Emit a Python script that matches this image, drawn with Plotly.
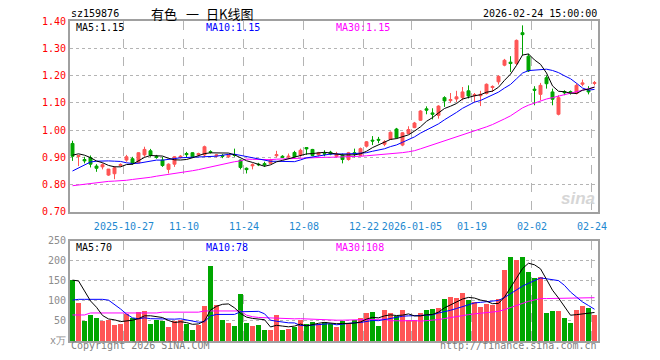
import plotly.graph_objects as go

# ---------------- data ----------------
opens = [0.951,0.903,0.892,0.899,0.868,0.865,0.835,0.840,0.870,0.890,
         0.895,0.880,0.909,0.924,0.904,0.890,0.856,0.875,0.900,0.914,
         0.917,0.909,0.909,0.921,0.905,0.907,0.902,0.910,0.890,0.860,
         0.869,0.875,0.877,0.878,0.906,0.904,0.901,0.918,0.908,0.936,
         0.929,0.909,0.914,0.919,0.904,0.908,0.892,0.917,0.907,0.941,
         0.963,0.966,0.948,0.966,1.004,0.945,0.987,1.009,1.036,1.078,
         1.063,1.054,1.119,1.108,1.114,1.119,1.144,1.126,1.126,1.134,
         1.156,1.177,1.238,1.249,1.244,1.357,1.271,1.150,1.131,1.192,
         1.140,1.058,1.141,1.141,1.134,1.168,1.146,1.171]
highs = [0.961,0.909,0.902,0.907,0.875,0.878,0.857,0.868,0.878,0.909,
         0.902,0.919,0.939,0.931,0.909,0.902,0.878,0.904,0.908,0.920,
         0.919,0.917,0.943,0.926,0.912,0.912,0.912,0.932,0.892,0.863,
         0.878,0.880,0.884,0.895,0.924,0.908,0.914,0.924,0.932,0.936,
         0.931,0.920,0.926,0.924,0.920,0.914,0.920,0.932,0.936,0.960,
         0.978,0.975,0.963,0.995,1.008,0.993,1.014,1.030,1.073,1.087,
         1.080,1.091,1.124,1.136,1.144,1.158,1.164,1.136,1.144,1.171,
         1.164,1.201,1.261,1.271,1.332,1.384,1.280,1.161,1.173,1.201,
         1.152,1.128,1.146,1.145,1.171,1.185,1.161,1.180]
lows = [0.887,0.868,0.878,0.863,0.847,0.856,0.832,0.820,0.866,0.884,
        0.873,0.878,0.902,0.902,0.895,0.865,0.841,0.865,0.896,0.900,
        0.898,0.904,0.904,0.914,0.900,0.897,0.898,0.902,0.856,0.841,
        0.856,0.868,0.865,0.875,0.900,0.898,0.896,0.900,0.902,0.909,
        0.904,0.904,0.904,0.908,0.900,0.878,0.888,0.900,0.904,0.936,
        0.945,0.952,0.941,0.964,0.969,0.941,0.985,1.007,1.034,1.058,
        1.039,1.042,1.085,1.100,1.103,1.109,1.116,1.103,1.088,1.131,
        1.140,1.167,1.234,1.213,1.238,1.274,1.213,1.091,1.109,1.152,
        1.091,1.054,1.128,1.130,1.131,1.161,1.131,1.164]
closes = [0.904,0.907,0.887,0.875,0.860,0.873,0.857,0.862,0.874,0.902,
          0.878,0.917,0.929,0.908,0.900,0.870,0.875,0.902,0.904,0.910,
          0.902,0.914,0.939,0.918,0.909,0.904,0.909,0.907,0.863,0.855,
          0.873,0.873,0.872,0.890,0.910,0.900,0.904,0.902,0.926,0.931,
          0.907,0.917,0.912,0.912,0.912,0.892,0.917,0.913,0.932,0.957,
          0.960,0.963,0.957,0.992,0.972,0.990,1.002,1.026,1.070,1.073,
          1.058,1.088,1.107,1.112,1.122,1.140,1.125,1.130,1.131,1.168,
          1.160,1.197,1.256,1.244,1.329,1.350,1.217,1.146,1.164,1.170,
          1.113,1.119,1.137,1.138,1.164,1.173,1.140,1.174]
volumes = [152,96,50,65,58,50,52,40,42,68,
           57,72,75,43,53,50,35,50,52,43,
           28,40,87,188,90,53,45,38,118,44,
           37,40,27,27,65,27,31,36,52,42,
           48,43,47,43,35,50,43,52,58,70,
           72,37,77,70,62,77,52,52,70,77,
           80,82,105,110,107,120,102,97,85,92,
           90,105,177,210,202,210,172,157,160,70,
           75,75,57,45,77,87,82,65]

# moving-average values visible at the left edge (they depend on earlier days)
ma5_head = [0.908, 0.913, 0.908, 0.899]
ma10_head = [0.850, 0.862, 0.874, 0.883, 0.886, 0.887, 0.887, 0.886, 0.885]
ma30_head = [0.796, 0.799, 0.802, 0.805, 0.807, 0.810, 0.812, 0.813, 0.814, 0.816,
             0.819, 0.821, 0.824, 0.827, 0.831, 0.834, 0.837, 0.840, 0.843, 0.847,
             0.851, 0.855, 0.860, 0.865, 0.870, 0.875, 0.880, 0.884, 0.887]
vma5_head = [152, 150, 125, 100]
vma10_head = [102, 104, 104, 104, 104, 104, 102, 92, 80]
vma30_head = [65, 65, 65, 70, 70, 70, 70, 70, 70, 70, 70, 70, 70, 70, 70,
              72, 72, 72, 72, 72, 72, 72, 75, 75, 75, 75, 75, 75, 75]

tick_idx = [9, 19, 29, 39, 49, 57, 67, 77, 87]
tick_labels = ["2025-10-27", "11-10", "11-24", "12-08", "12-22",
               "2026-01-05", "01-19", "02-02", "02-24"]
price_ticks = [0.70, 0.80, 0.90, 1.00, 1.10, 1.20, 1.30, 1.40]
vol_ticks = [0, 50, 100, 150, 200, 250]
vol_tick_labels = ["x万", "50", "100", "150", "200", "250"]
price_ma_labels = ["1.15", "1.15", "1.15"]
vol_ma_labels = ["70", "78", "108"]

# ---------------- helpers ----------------
def moving_average(vals, n, head):
    out = list(head)
    for i in range(len(head), len(vals)):
        w = vals[i - n + 1:i + 1]
        out.append(sum(w) / n)
    return out

N = len(closes)
xs = list(range(N))
ma5 = moving_average(closes, 5, ma5_head)
ma10 = moving_average(closes, 10, ma10_head)
ma30 = moving_average(closes, 30, ma30_head)
vma5 = moving_average(volumes, 5, vma5_head)
vma10 = moving_average(volumes, 10, vma10_head)
vma30 = moving_average(volumes, 30, vma30_head)

RED = "#ff5555"
GREEN = "#00a600"
MONO = "DejaVu Sans Mono"
CJK = "Noto Sans CJK SC"
GRID = "#b4b4b4"
BORDER = "#a0a0a0"

vol_colors = [RED if c >= o else GREEN for o, c in zip(opens, closes)]

fig = go.Figure()
fig.add_trace(go.Candlestick(
    x=xs, open=opens, high=highs, low=lows, close=closes,
    increasing=dict(line=dict(color=RED, width=1), fillcolor=RED),
    decreasing=dict(line=dict(color=GREEN, width=1), fillcolor=GREEN),
    whiskerwidth=0, xaxis="x", yaxis="y", hoverinfo="skip"))
for vals, col in [(ma30, "#ff00ff"), (ma10, "#0000ff"), (ma5, "#000000")]:
    fig.add_trace(go.Scatter(x=xs, y=vals, mode="lines",
                             line=dict(color=col, width=1),
                             xaxis="x", yaxis="y", hoverinfo="skip"))

fig.add_trace(go.Bar(x=xs, y=volumes, marker=dict(color=vol_colors, line=dict(width=0)),
                     width=0.85, xaxis="x2", yaxis="y2", hoverinfo="skip"))
for vals, col in [(vma30, "#ff00ff"), (vma10, "#0000ff"), (vma5, "#000000")]:
    fig.add_trace(go.Scatter(x=xs, y=vals, mode="lines",
                             line=dict(color=col, width=1),
                             xaxis="x2", yaxis="y2", hoverinfo="skip"))

# window pixel geometry of the plot area
W, H = 660, 360
PLOT_L, PLOT_R, PLOT_T, PLOT_B = 70, 598, 20.5, 341
L, T = PLOT_L, PLOT_T
R = W - PLOT_R
B = H - PLOT_B
PW, PH = PLOT_R - PLOT_L, PLOT_B - PLOT_T

def px(x):
    return (x - PLOT_L) / PW
def py(y):
    return (PLOT_B - y) / PH

price_dom = [py(211.7), 1.0]
vol_dom = [0.0, py(240.7)]
xr = [-0.417, N - 0.417]
grid_x = [t - 0.42 for t in tick_idx]

common_x = dict(range=xr, showgrid=True, gridcolor=GRID, griddash="dash", gridwidth=1,
                zeroline=False, showline=True, mirror=True, linecolor=BORDER, linewidth=2,
                tickvals=grid_x, fixedrange=True)
fig.update_layout(
    width=W, height=H,
    margin=dict(l=L, r=R, t=T, b=B, pad=0, autoexpand=False),
    paper_bgcolor="white", plot_bgcolor="white",
    showlegend=False, bargap=0, hovermode=False,
    xaxis=dict(common_x, domain=[0, 1], anchor="y", ticktext=tick_labels,
               tickfont=dict(family=MONO, size=10, color="#1e88d0"),
               tickangle=0, ticks="outside", ticklen=4, tickcolor="rgba(0,0,0,0)",
               rangeslider=dict(visible=False)),
    xaxis2=dict(common_x, domain=[0, 1], anchor="y2", showticklabels=False, ticks=""),
    yaxis=dict(domain=price_dom, range=[0.70, 1.40], tickvals=price_ticks,
               ticktext=["%.2f" % v for v in price_ticks],
               tickfont=dict(family=MONO, size=10, color="#ff0000"),
               showgrid=True, gridcolor=GRID, griddash="dot", zeroline=False,
               showline=True, mirror=True, linecolor=BORDER, linewidth=2, ticks=""),
    yaxis2=dict(domain=vol_dom, range=[0, 250], tickvals=vol_ticks,
                ticktext=vol_tick_labels,
                tickfont=dict(family=MONO, size=10, color="#8c8c8c"),
                showgrid=True, gridcolor=GRID, griddash="dot", zeroline=False,
                showline=True, mirror=True, linecolor=BORDER, linewidth=2, ticks=""),
)

def note(text, x, y, color="#000000", size=10, anchor="left", family=MONO, **kw):
    fig.add_annotation(text=text, x=px(x), y=py(y), xref="paper", yref="paper",
                       xanchor=anchor, yanchor="middle", showarrow=False,
                       font=dict(family=family, size=size, color=color), **kw)

# header
note("sz159876", 69, 13)
note("有色", 149, 13, size=13, family=CJK)
note("一", 184, 13, size=13, family=CJK)
note("日K线图", 204, 13, size=13, family=CJK)
note("2026-02-24 15:00:00", 599, 13, anchor="right")
# MA legends
note("MA5:" + price_ma_labels[0], 74, 27, "#000000")
note("MA10:" + price_ma_labels[1], 204, 27, "#0000ff")
note("MA30:" + price_ma_labels[2], 334, 27, "#ff00ff")
note("MA5:" + vol_ma_labels[0], 74, 247, "#000000")
note("MA10:" + vol_ma_labels[1], 204, 247, "#0000ff")
note("MA30:" + vol_ma_labels[2], 334, 247, "#ff00ff")
# watermark + footer
note("<b><i>sina</i></b>", 597, 198, "#d6d6d6", size=17, anchor="right", family="Liberation Sans")
note("Copyright 2026 SINA.COM", 69, 346, "#808080")
note("http://finance.sina.com.cn", 599, 346, "#808080", anchor="right")

# remove the default 8px page margin so the figure fills the window exactly
fig.write_html("out.html",
               config={"displayModeBar": False, "staticPlot": True},
               post_script="document.body.style.margin='0';document.body.style.overflow='hidden';")
